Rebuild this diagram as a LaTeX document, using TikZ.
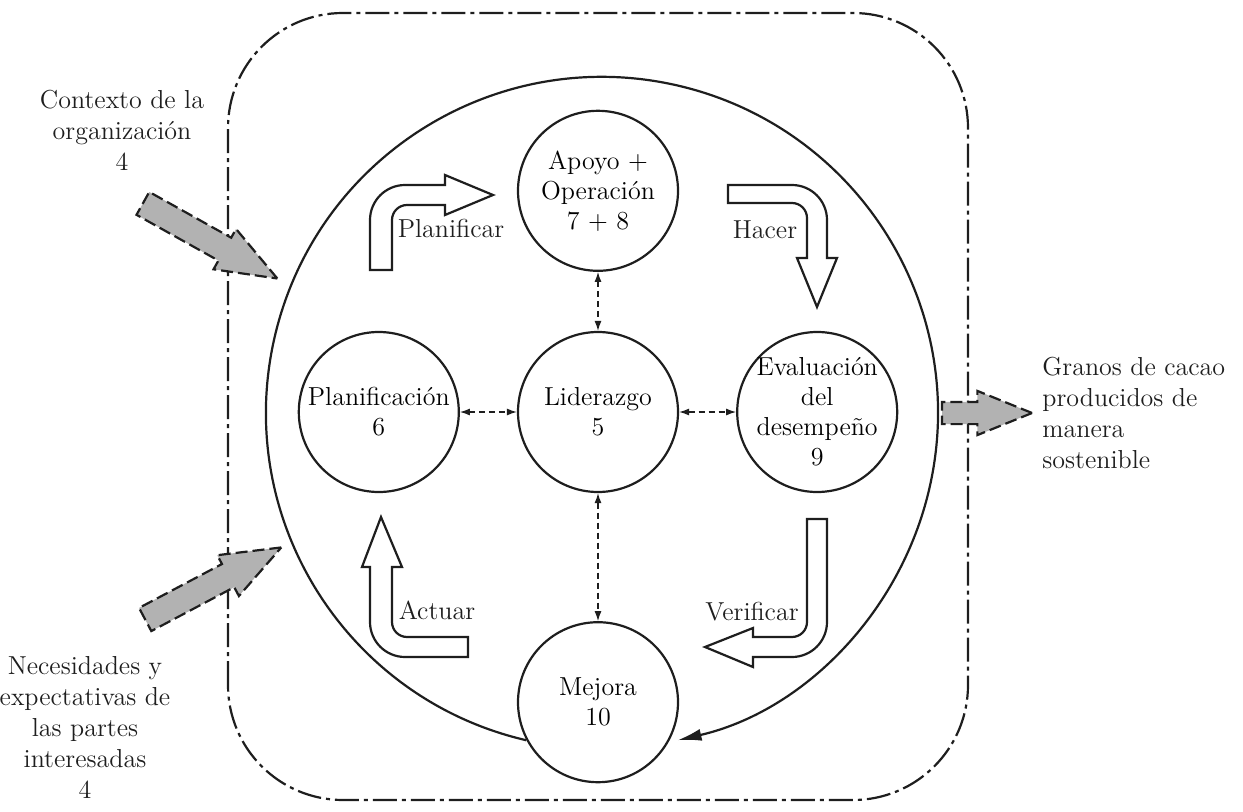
\documentclass[tikz,border=0pt]{standalone}
\usepackage{tikz}
\usetikzlibrary{arrows.meta,positioning,shapes.arrows}
\definecolor{InkBlack}{HTML}{1E1E1E}
\definecolor{BlockGray}{HTML}{B2B2B2}
\tikzset{
  stage/.style={circle,draw=InkBlack,line width=1.1pt,minimum size=80pt,inner sep=-4pt,
                align=center,font=\fontsize{13}{15}\selectfont},
  txt/.style={align=center,font=\fontsize{13}{15.5}\selectfont,text=InkBlack,inner sep=1pt},
  turnarrow/.style={draw=InkBlack,line width=1.1pt,fill=white,line join=miter},
  inarrow/.style={single arrow,draw=InkBlack,line width=1.1pt,dash pattern=on 6pt off 2.5pt,
                  fill=BlockGray,single arrow head extend=5pt,single arrow tip angle=42,
                  inner sep=6pt,anchor=tip},
  link/.style={{Latex[length=5pt,width=3.5pt]}-{Latex[length=5pt,width=3.5pt]},
               dash pattern=on 3pt off 2pt,draw=InkBlack,line width=0.6pt},
  loopflow/.style={-{Latex[length=12pt,width=6pt]},draw=InkBlack,line width=1.1pt},
  frame/.style={draw=InkBlack,line width=1.1pt,dash pattern=on 12pt off 2.5pt on 2pt off 2.5pt,
                rounded corners=57.5pt}
}
\begin{document}
\begin{tikzpicture}[x=0.5pt,y=0.5pt,node distance=28.5pt]
  \useasboundingbox (0,0) rectangle (1243,811);
  \draw[frame] (228,11) rectangle (968,798);

  \node[stage] (lider) at (598,399) {Liderazgo\\5};
  \node[stage,above=29.5pt of lider] (apoyo) {Apoyo +\\Operación\\7 + 8};
  \node[stage,left=of lider] (planif) {Planificación\\6};
  \node[stage,right=of lider] (evalua) {Evaluación\\del\\desempeño\\9};
  \node[stage,below=64pt of lider] (mejora) {Mejora\\10};

  \draw[link] (planif) -- (lider);
  \draw[link] (lider) -- (evalua);
  \draw[link] (apoyo) -- (lider);
  \draw[link] (lider) -- (mejora);
  \draw[loopflow] (mejora.208) arc[start angle=257,end angle=-77,radius=336];

  \draw[turnarrow] (370,541) -- (370,591) arc[start angle=180,end angle=90,radius=35]
    -- (445,626) -- (445,636) -- (493,616) -- (445,596) -- (445,606) -- (407,606)
    arc[start angle=90,end angle=180,radius=15] -- (392,541) -- cycle;
  \draw[turnarrow] (728,626) -- (792,626) arc[start angle=90,end angle=0,radius=35]
    -- (827,553) -- (837,553) -- (817,504) -- (797,553) -- (807,553) -- (807,593)
    arc[start angle=0,end angle=90,radius=15] -- (728,608) -- cycle;
  \draw[turnarrow] (807,292) -- (827,292) -- (827,189) arc[start angle=0,end angle=-90,radius=35]
    -- (753,154) -- (753,144) -- (705,164) -- (753,183) -- (753,174) -- (792,174)
    arc[start angle=-90,end angle=0,radius=15] -- cycle;
  \draw[turnarrow] (468,154) -- (405,154) arc[start angle=-90,end angle=-180,radius=35]
    -- (370,244) -- (362,244) -- (381,294) -- (402,244) -- (392,244) -- (392,189)
    arc[start angle=180,end angle=270,radius=15] -- (468,174) -- cycle;

  \node[txt] (planificar) at (451,583) {Planificar};
  \node[txt] (hacer) at (765,581) {Hacer};
  \node[txt] (verificar) at (752,199) {Verificar};
  \node[txt] (actuar) at (437,201) {Actuar};

  \node[inarrow,minimum height=77pt,rotate=-29.2] (contextoin) at (280,531) {};
  \node[inarrow,minimum height=77pt,rotate=27.9] (partesin) at (284,265) {};
  \node[inarrow,minimum height=45pt,inner sep=5pt,single arrow head extend=5.5pt,
        single arrow tip angle=44] (granosout) at (1035,398) {};

  \node[txt] (contexto) at (122,681) {Contexto de la\\organización\\4};
  \node[txt] (partes) at (85,84) {Necesidades y\\expectativas de\\las partes\\interesadas\\4};
  \node[txt,align=left,anchor=west] (granos) at (1040,398) {Granos de cacao\\producidos de\\manera\\sostenible};
\end{tikzpicture}
\end{document}
